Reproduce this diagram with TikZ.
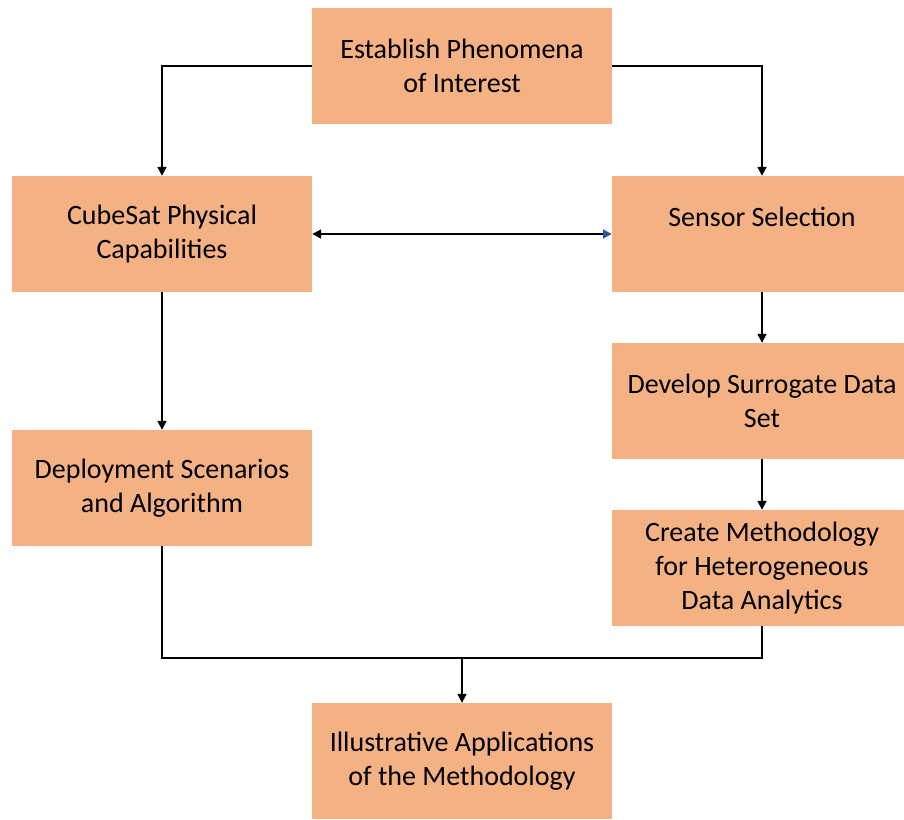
\documentclass[tikz,border=0pt]{standalone}
\usepackage{fontspec}
\setmainfont{Carlito}
\usepackage{xcolor}
\usetikzlibrary{arrows.meta}
\definecolor{boxorange}{HTML}{F4B183}
\definecolor{tipblue}{HTML}{2F5597}

\begin{document}
\begin{tikzpicture}[
  x=1pt,y=-1pt,
  font=\fontsize{28}{34}\selectfont,
  box/.style={fill=boxorange,minimum width=300pt,minimum height=116pt,inner sep=0pt,align=center},
  >={Triangle[length=9pt,width=9pt]},
  ln/.style={line width=1.7pt,black}
]
\useasboundingbox (0,0) rectangle (904,819);
% stages
\node[box] (phen)   at (462,66)  {Establish Phenomena\\of Interest};
\node[box] (cube)   at (162,234) {CubeSat Physical\\Capabilities};
\node[box] (sensor) at (762,234) {Sensor Selection\\\mbox{}};
\node[box] (surr)   at (762,401) {Develop Surrogate Data\\Set};
\node[box] (deploy) at (162,488) {Deployment Scenarios\\and Algorithm};
\node[box] (method) at (762,568) {Create Methodology\\for Heterogeneous\\Data Analytics};
\node[box] (illus)  at (462,761) {Illustrative Applications\\of the Methodology};
\coordinate (join) at (462,658);
% split from the top
\draw[ln,->] (phen.west) -| (cube.north);
\draw[ln,->] (phen.east) -| (sensor.north);
% two columns
\draw[ln,{Triangle[length=9pt,width=9pt]}-{Triangle[length=9pt,width=9pt,color=tipblue]}] (cube.east) -- (sensor.west);
\draw[ln,->] (cube.south) -- (deploy.north);
\draw[ln,->] (sensor.south) -- (surr.north);
\draw[ln,->] (surr.south) -- (method.north);
% merge into the last stage
\draw[ln] (deploy.south) |- (join) -| (method.south);
\draw[ln,->] (join) -- (illus.north);
\end{tikzpicture}
\end{document}
